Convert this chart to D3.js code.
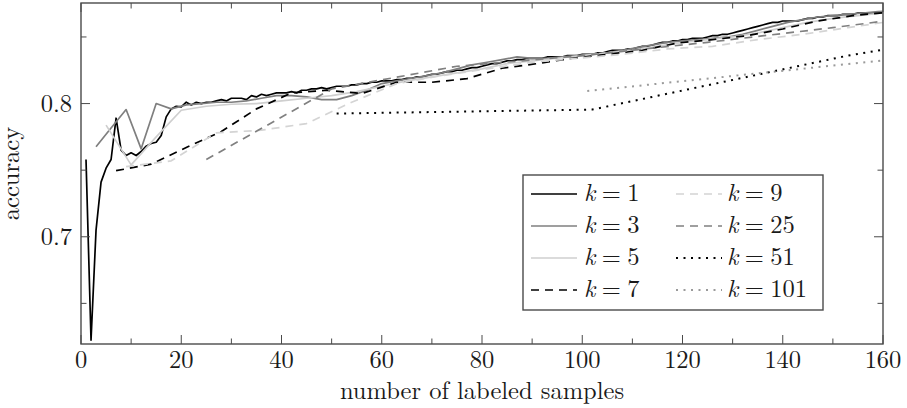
<!DOCTYPE html>
<html>
<head>
<meta charset="utf-8">
<script src="https://cdn.jsdelivr.net/npm/d3@7"></script>
<style>
  body { margin: 0; background: #fff; }
</style>
</head>
<body>
<div id="svg-container"></div>
<script>
////////////////////////////////////////////////////////////////////
////////////////////////////  Data  ///////////////////////////////

// x step of every series equals its k (k=1 -> 1,2,3..., k=3 -> 3,6,9...)
const kValues = [1, 3, 5, 7, 9, 25, 51, 101];

const acc1 = [
  0.758, 0.6224, 0.705, 0.741, 0.7515, 0.758, 0.789, 0.765, 0.761, 0.763,
  0.761, 0.764, 0.768, 0.770, 0.771, 0.776, 0.790, 0.796, 0.798, 0.7975,
  0.801, 0.799, 0.801, 0.800, 0.801, 0.801, 0.802, 0.803, 0.802, 0.804,
  0.804, 0.804, 0.803, 0.806, 0.805, 0.807, 0.806, 0.807, 0.808, 0.808,
  0.808, 0.809, 0.808, 0.810, 0.810, 0.811, 0.811, 0.812, 0.811, 0.812,
  0.813, 0.813, 0.813, 0.814, 0.814, 0.815, 0.815, 0.816, 0.816, 0.817,
  0.817, 0.817, 0.818, 0.818, 0.819, 0.819, 0.820, 0.820, 0.821, 0.822,
  0.822, 0.823, 0.824, 0.824, 0.825, 0.825, 0.826, 0.827, 0.827, 0.828,
  0.829, 0.830, 0.830, 0.831, 0.832, 0.832, 0.833, 0.833, 0.834, 0.834,
  0.834, 0.834, 0.835, 0.835, 0.835, 0.835, 0.836, 0.836, 0.836, 0.837,
  0.837, 0.837, 0.838, 0.838, 0.839, 0.840, 0.840, 0.840, 0.841, 0.841,
  0.842, 0.843, 0.843, 0.844, 0.845, 0.846, 0.846, 0.847, 0.847, 0.848,
  0.848, 0.849, 0.849, 0.849, 0.850, 0.851, 0.851, 0.852, 0.852, 0.853,
  0.854, 0.855, 0.856, 0.857, 0.858, 0.859, 0.860, 0.861, 0.861, 0.862,
  0.862, 0.862, 0.862, 0.863, 0.864, 0.864, 0.865, 0.865, 0.866, 0.866,
  0.866, 0.867, 0.867, 0.867, 0.868, 0.868, 0.868, 0.868, 0.868, 0.8685
];
const acc3 = [
  0.7676, 0.7816, 0.7955, 0.766, 0.800, 0.796, 0.799, 0.800, 0.801, 0.801,
  0.802, 0.804, 0.806, 0.806, 0.805, 0.803, 0.803, 0.806, 0.810, 0.815,
  0.817, 0.819, 0.821, 0.823, 0.826, 0.829, 0.831, 0.833, 0.835, 0.834,
  0.834, 0.835, 0.836, 0.837, 0.838, 0.840, 0.842, 0.844, 0.846, 0.847,
  0.848, 0.849, 0.850, 0.852, 0.855, 0.858, 0.861, 0.863, 0.865, 0.866,
  0.867, 0.868, 0.869, 0.8695
];
const acc5 = [
  0.7838, 0.754, 0.775, 0.795, 0.798, 0.7995, 0.800, 0.802, 0.804, 0.806,
  0.809, 0.813, 0.817, 0.820, 0.823, 0.826, 0.830, 0.832, 0.834, 0.836,
  0.838, 0.840, 0.843, 0.846, 0.848, 0.850, 0.853, 0.857, 0.861, 0.864,
  0.866, 0.868
];
const acc7 = [
  0.7496, 0.7545, 0.767, 0.779, 0.796, 0.808, 0.810, 0.8075, 0.816, 0.816,
  0.8187, 0.8265, 0.830, 0.834, 0.837, 0.840, 0.8455, 0.848, 0.851, 0.856,
  0.862, 0.866, 0.8685
];
const acc9 = [
  0.7526, 0.757, 0.778, 0.780, 0.785, 0.801, 0.815, 0.821, 0.826, 0.831,
  0.834, 0.837, 0.841, 0.843, 0.848, 0.852, 0.857, 0.862
];
const acc25 = [0.758, 0.811, 0.828, 0.836, 0.846, 0.857, 0.869];
const acc51 = [0.7925, 0.7955, 0.836, 0.868];
const acc101 = [0.8094, 0.8488];

const seriesValues = [acc1, acc3, acc5, acc7, acc9, acc25, acc51, acc101];

const xTicks = [0, 20, 40, 60, 80, 100, 120, 140, 160];
const xMinorTicks = [10, 30, 50, 70, 90, 110, 130, 150];
const yTicks = [0.7, 0.8];
const yMinorTicks = [0.65, 0.75, 0.85];

// styles per series
const colors = ["#000", "#7f7f7f", "#cfcfcf", "#000", "#d4d4d4", "#808080", "#000", "#9a9a9a"];
const dashes = [null, null, null, "8,6", "8,6", "8,6", "2,5.5", "2,5.5"];

////////////////////////////////////////////////////////////////////
////////////////////////////  Init  ///////////////////////////////

const width = 907;
const height = 408;
const margin = { top: 3, right: 24, bottom: 64, left: 81 };
const font = '"Latin Modern Roman"';
const fontSize = 24.5;
const textColor = "#1a1a1a";

const svg = d3.select("#svg-container").append("svg")
  .attr("width", width)
  .attr("height", height);

const xScale = d3.scaleLinear().domain([0, 160]).range([margin.left, width - margin.right]);
const yScale = d3.scaleLinear().domain([0.6195, 0.8755]).range([height - margin.bottom, margin.top]);

const x0 = margin.left, x1 = width - margin.right;
const y0 = height - margin.bottom, y1 = margin.top;

svg.append("clipPath").attr("id", "plot-clip")
  .append("rect")
  .attr("x", x0).attr("y", y1)
  .attr("width", x1 - x0).attr("height", y0 - y1);

////////////////////////////////////////////////////////////////////
////////////////////////////  Lines  //////////////////////////////

const line = d3.line()
  .x((d) => xScale(d.x))
  .y((d) => yScale(d.y));

const plot = svg.append("g").attr("clip-path", "url(#plot-clip)");

seriesValues.forEach((vals, i) => {
  const k = kValues[i];
  const pts = vals.map((v, j) => ({ x: k * (j + 1), y: v }));
  plot.append("path")
    .datum(pts)
    .attr("fill", "none")
    .attr("stroke", colors[i])
    .attr("stroke-width", dashes[i] && dashes[i].startsWith("2") ? 2 : 1.7)
    .attr("stroke-linejoin", "round")
    .attr("stroke-dasharray", dashes[i])
    .attr("d", line);
});

////////////////////////////////////////////////////////////////////
////////////////////////////  Axes  ///////////////////////////////

const axisColor = "#4a4a4a";
const ticks = svg.append("g").attr("stroke", axisColor).attr("stroke-width", 1);

// ticks point inwards, mirrored on top and right
xTicks.concat(xMinorTicks).forEach((t) => {
  const len = xTicks.includes(t) ? 9 : 5.5;
  const x = xScale(t);
  ticks.append("line").attr("x1", x).attr("x2", x).attr("y1", y0).attr("y2", y0 - len);
  ticks.append("line").attr("x1", x).attr("x2", x).attr("y1", y1).attr("y2", y1 + len);
});
yTicks.concat(yMinorTicks).forEach((t) => {
  const len = yTicks.includes(t) ? 9 : 5.5;
  const y = yScale(t);
  ticks.append("line").attr("x1", x0).attr("x2", x0 + len).attr("y1", y).attr("y2", y);
  ticks.append("line").attr("x1", x1).attr("x2", x1 - len).attr("y1", y).attr("y2", y);
});

svg.append("rect")
  .attr("x", x0).attr("y", y1)
  .attr("width", x1 - x0).attr("height", y0 - y1)
  .attr("fill", "none")
  .attr("stroke", axisColor)
  .attr("stroke-width", 1.4);

svg.selectAll(".xlab").data(xTicks).enter().append("text")
  .attr("class", "xlab")
  .attr("x", (d) => xScale(d))
  .attr("y", 368)
  .attr("text-anchor", "middle")
  .attr("font-size", fontSize)
  .attr("fill", textColor)
  .style("font-family", font)
  .text((d) => d);

svg.selectAll(".ylab").data(yTicks).enter().append("text")
  .attr("class", "ylab")
  .attr("x", 72)
  .attr("y", (d) => yScale(d) + 8)
  .attr("text-anchor", "end")
  .attr("font-size", fontSize)
  .attr("fill", textColor)
  .style("font-family", font)
  .text((d) => d3.format(".1f")(d));

svg.append("text")
  .attr("x", (x0 + x1) / 2)
  .attr("y", 399)
  .attr("text-anchor", "middle")
  .attr("font-size", fontSize)
  .attr("fill", textColor)
  .style("font-family", font)
  .text("number of labeled samples");

svg.append("text")
  .attr("transform", `translate(19,${(y0 + y1) / 2}) rotate(-90)`)
  .attr("text-anchor", "middle")
  .attr("font-size", fontSize)
  .attr("fill", textColor)
  .style("font-family", font)
  .text("accuracy");

////////////////////////////////////////////////////////////////////
////////////////////////////  Legend  /////////////////////////////

const legend = svg.append("g");
legend.append("rect")
  .attr("x", 523).attr("y", 175)
  .attr("width", 300).attr("height", 135)
  .attr("fill", "#fff")
  .attr("stroke", axisColor)
  .attr("stroke-width", 1.4);

kValues.forEach((k, i) => {
  const col = Math.floor(i / 4);
  const row = i % 4;
  const lx = col === 0 ? 531 : 676;
  const tx = col === 0 ? 584 : 727;
  const ly = 194 + row * 32;
  legend.append("line")
    .attr("x1", lx).attr("x2", lx + 46)
    .attr("y1", ly).attr("y2", ly)
    .attr("stroke", colors[i])
    .attr("stroke-width", dashes[i] && dashes[i].startsWith("2") ? 2 : 1.7)
    .attr("stroke-dasharray", dashes[i]);
  const t = legend.append("text")
    .attr("x", tx)
    .attr("y", ly + 7)
    .attr("font-size", fontSize)
    .attr("fill", textColor)
    .style("font-family", font);
  t.append("tspan").attr("font-style", "italic").text("k");
  t.append("tspan").attr("dx", 6.5).text("=");
  t.append("tspan").attr("dx", 6.5).text(k);
});
</script>
</body>
</html>
